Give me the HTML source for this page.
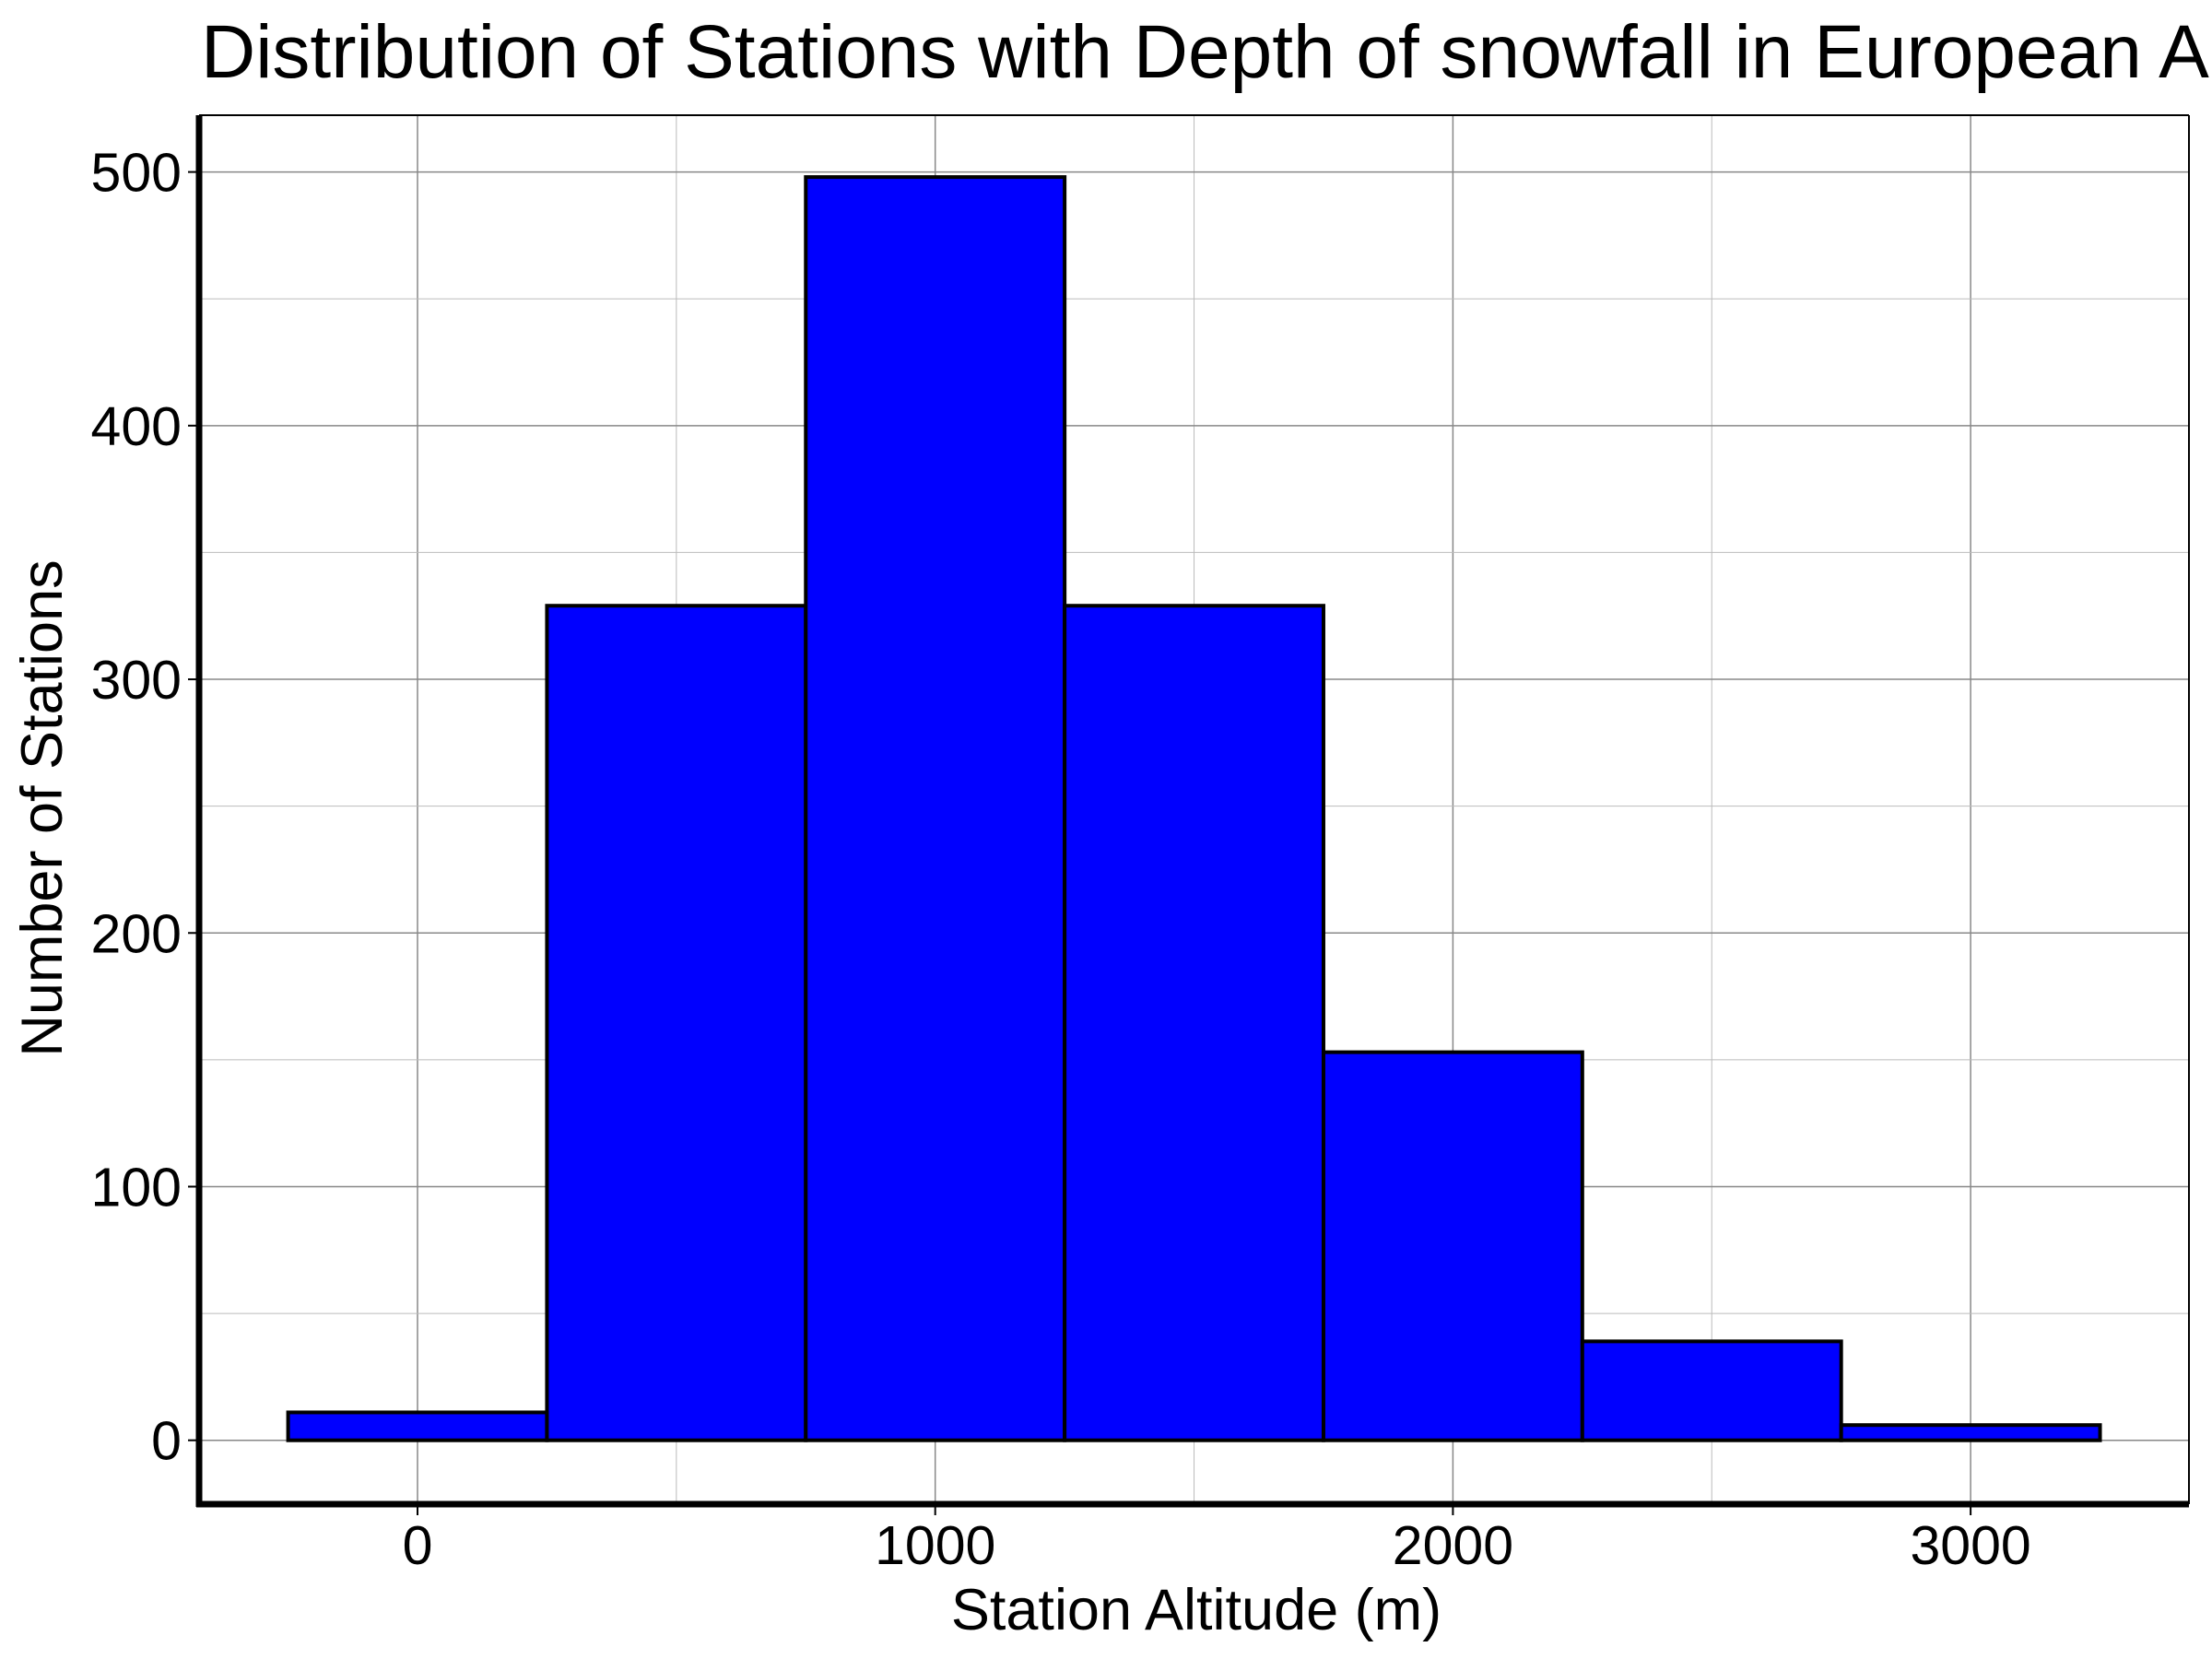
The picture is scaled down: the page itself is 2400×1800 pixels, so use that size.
<!DOCTYPE html>
<html><head><meta charset="utf-8"><style>
body{margin:0;background:#fff}
svg{display:block;font-family:"Liberation Sans",Arial,sans-serif}
</style></head><body>
<svg id="c" width="2400" height="1800" viewBox="0 0 2400 1800">
<text x="218" y="84" font-size="82">Distribution of Stations with Depth of snowfall in European Alps</text>
<g id="grid"></g><g id="bars"></g><g id="axes"></g>
<text x="1298" y="1768" font-size="63" text-anchor="middle">Station Altitude (m)</text>
<text transform="translate(67,877) rotate(-90)" font-size="63" text-anchor="middle">Number of Stations</text>
</svg>
<script>
const binStarts=[-250,250,750,1250,1750,2250,2750];
const binWidth=500;
const counts=[11,329,498,329,153,39,6];
const xTicks=[0,1000,2000,3000];
const yTicks=[0,100,200,300,400,500];
const L=216,R=2375,T=125,B=1632;
const X=v=>453+v*0.5617;
const Y=v=>1562.7-v*2.7522;
const NS='http://www.w3.org/2000/svg';
function mk(t,a,p){const e=document.createElementNS(NS,t);for(const k in a)e.setAttribute(k,a[k]);p.appendChild(e);return e;}
const grid=document.getElementById('grid'),bars=document.getElementById('bars'),axes=document.getElementById('axes');
for(let v=-500;v<=3500;v+=500){const x=X(v);if(x<L||x>R)continue;
 const g=mk('line',{x1:x,x2:x,y1:T,y2:B,stroke:v%1000===0?'#888':'#bbb','stroke-width':v%1000===0?1.5:1},grid);
 
 }
for(let v=0;v<=550;v+=50){const y=Y(v);if(y<T||y>B)continue;
 const g=mk('line',{x1:L,x2:R,y1:y,y2:y,stroke:v%100===0?'#888':'#bbb','stroke-width':v%100===0?1.5:1},grid);
 
 }
counts.forEach((c,i)=>{const x0=X(binStarts[i]),x1=X(binStarts[i]+binWidth);
 const r=mk('rect',{x:x0,y:Y(c),width:x1-x0,height:Y(0)-Y(c),fill:'#0000ff',stroke:'#000','stroke-width':4},bars);
 
 });
let s=mk('line',{x1:L,x2:R,y1:T,y2:T,stroke:'#000','stroke-width':2},axes);


s=mk('line',{x1:R,x2:R,y1:T,y2:B,stroke:'#000','stroke-width':2},axes);


s=mk('line',{x1:L,x2:L,y1:T,y2:B+3,stroke:'#000','stroke-width':7},axes);


s=mk('line',{x1:L-3,x2:R,y1:B,y2:B,stroke:'#000','stroke-width':7},axes);


xTicks.forEach(v=>{const x=X(v);
 const t=mk('line',{x1:x,x2:x,y1:B,y2:B+12,stroke:'#000','stroke-width':2},axes);
 
 
 const l=mk('text',{x:x,y:1697,'font-size':59,'text-anchor':'middle'},axes);l.textContent=v;
 
 });
yTicks.forEach(v=>{const y=Y(v);
 const t=mk('line',{x1:L-12,x2:L,y1:y,y2:y,stroke:'#000','stroke-width':2},axes);
 
 
 const l=mk('text',{x:197,y:y+21,'font-size':59,'text-anchor':'end'},axes);l.textContent=v;
 
 });
</script>
</body></html>
